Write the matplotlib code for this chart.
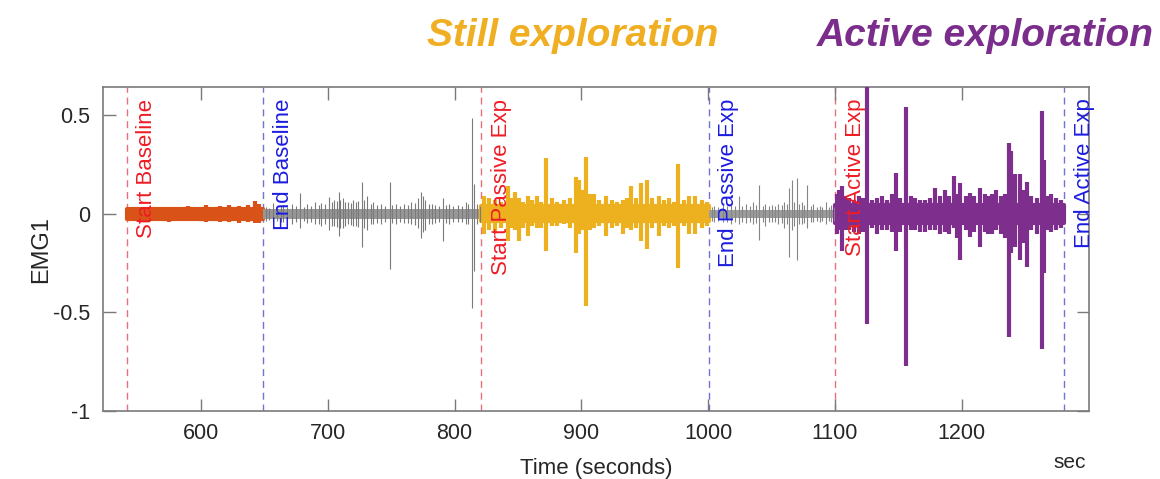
import matplotlib
matplotlib.use('Agg')
from matplotlib import pyplot as plt
import matplotlib.ticker as mticker
import matplotlib.transforms as mtransforms

# event markers (seconds)
event_t = [541.5, 649, 821, 1000.5, 1100, 1281]
event_labels = ['Start Baseline', 'End Baseline', 'Start Passive Exp',
                'End Passive Exp', 'Start Active Exp', 'End Active Exp']

# segments: start, end, noise band half-width
seg_names = ['baseline', 'rest1', 'passive', 'rest2', 'active']
seg_start = [541.5, 649, 821, 1000.5, 1100]
seg_end = [649, 821, 1000.5, 1100, 1281]
seg_noise = [0.027, 0.026, 0.038, 0.021, 0.044]

# spikes: time, upper peak, lower peak
base_t = [548, 560, 575, 590, 604, 615, 622, 630, 637, 643, 646]
base_hi = [0.035, 0.037, 0.035, 0.04, 0.043, 0.041, 0.045, 0.04, 0.043, 0.063, 0.05]
base_lo = [-0.035, -0.037, -0.04, -0.035, -0.041, -0.04, -0.043, -0.045, -0.041, -0.045, -0.045]

rest1_t = [651, 654, 657, 660, 663, 665, 668, 672, 675, 678, 681, 684, 687, 690, 693,
           695, 698, 701, 703, 705, 707, 708.7, 710, 712, 714, 716, 718, 720, 722, 724,
           727, 729, 731, 734, 736, 739, 742, 745, 749, 751, 754, 757, 760, 763, 766,
           769, 771, 773.8, 775, 777, 780, 782, 785, 788, 790.8, 793, 796, 799, 803,
           806, 809, 811, 813.6, 815, 818, 820]
rest1_hi = [0.035, 0.03, 0.055, 0.035, 0.04, 0.045, 0.035, 0.05, 0.04, 0.105, 0.035,
            0.05, 0.04, 0.06, 0.045, 0.055, 0.05, 0.085, 0.06, 0.07, 0.065, 0.11, 0.07,
            0.08, 0.06, 0.06, 0.055, 0.07, 0.06, 0.065, 0.16, 0.07, 0.09, 0.05, 0.06,
            0.045, 0.05, 0.04, 0.16, 0.045, 0.05, 0.04, 0.05, 0.045, 0.06, 0.055, 0.08,
            0.11, 0.09, 0.07, 0.05, 0.05, 0.045, 0.04, 0.08, 0.045, 0.05, 0.04, 0.045,
            0.04, 0.06, 0.05, 0.485, 0.15, 0.05, 0.04]
rest1_lo = [-0.035, -0.03, -0.045, -0.035, -0.04, -0.04, -0.035, -0.05, -0.04, -0.07,
            -0.035, -0.045, -0.04, -0.05, -0.05, -0.06, -0.05, -0.08, -0.06, -0.06,
            -0.065, -0.11, -0.07, -0.07, -0.06, -0.05, -0.055, -0.06, -0.06, -0.065,
            -0.17, -0.07, -0.08, -0.05, -0.05, -0.045, -0.05, -0.04, -0.28, -0.045,
            -0.05, -0.04, -0.045, -0.045, -0.05, -0.055, -0.07, -0.12, -0.09, -0.08,
            -0.05, -0.05, -0.045, -0.04, -0.14, -0.045, -0.05, -0.04, -0.04, -0.04,
            -0.05, -0.05, -0.475, -0.29, -0.05, -0.04]

passive_t = [823, 827, 832, 837, 842, 845, 848, 850.7, 854, 857.7, 861, 864.8, 868,
             872.2, 877, 881, 886, 891, 895.8, 898.4, 901, 903.7, 907, 910, 914, 919.5,
             924, 928, 932.5, 936, 939, 943, 947, 952, 956, 961, 965, 969, 973, 976.6,
             981, 985, 990, 995, 999]
passive_hi = [0.09, 0.08, 0.07, 0.06, 0.14, 0.08, 0.11, 0.08, 0.06, 0.09, 0.07, 0.09,
              0.06, 0.284, 0.08, 0.06, 0.07, 0.08, 0.187, 0.17, 0.12, 0.29, 0.1, 0.1,
              0.07, 0.09, 0.07, 0.06, 0.07, 0.08, 0.14, 0.08, 0.158, 0.17, 0.08, 0.09,
              0.07, 0.08, 0.06, 0.255, 0.07, 0.09, 0.09, 0.07, 0.06]
passive_lo = [-0.1, -0.08, -0.09, -0.07, -0.14, -0.07, -0.08, -0.14, -0.07, -0.11,
              -0.06, -0.07, -0.07, -0.187, -0.06, -0.06, -0.05, -0.07, -0.197, -0.1,
              -0.08, -0.465, -0.08, -0.07, -0.06, -0.11, -0.07, -0.06, -0.1, -0.07,
              -0.08, -0.07, -0.14, -0.18, -0.07, -0.11, -0.06, -0.07, -0.06, -0.277,
              -0.06, -0.1, -0.1, -0.07, -0.06]

rest2_t = [1003, 1005, 1008, 1012, 1015, 1018, 1021, 1024.4, 1027, 1030, 1033, 1035,
           1038, 1040, 1043, 1045, 1048, 1050, 1053, 1055, 1058, 1060, 1062, 1063.8,
           1066, 1068, 1070, 1072, 1074, 1076, 1078, 1081, 1083, 1086, 1088, 1090,
           1092.6, 1095, 1097, 1099]
rest2_hi = [0.035, 0.04, 0.035, 0.05, 0.04, 0.045, 0.04, 0.09, 0.04, 0.05, 0.04, 0.06,
            0.045, 0.148, 0.04, 0.05, 0.04, 0.045, 0.04, 0.05, 0.045, 0.06, 0.05, 0.13,
            0.173, 0.06, 0.18, 0.05, 0.06, 0.045, 0.148, 0.04, 0.05, 0.035, 0.04, 0.035,
            0.06, 0.035, 0.045, 0.035]
rest2_lo = [-0.035, -0.04, -0.035, -0.04, -0.04, -0.05, -0.04, -0.05, -0.04, -0.045,
            -0.04, -0.05, -0.045, -0.133, -0.04, -0.06, -0.04, -0.04, -0.04, -0.05,
            -0.045, -0.07, -0.05, -0.22, -0.08, -0.06, -0.235, -0.05, -0.05, -0.045,
            -0.07, -0.04, -0.04, -0.035, -0.04, -0.035, -0.05, -0.035, -0.04, -0.035]

active_t = [1102, 1103, 1105.8, 1108, 1111, 1115, 1119, 1122, 1125.4, 1129, 1133, 1137,
            1141, 1145, 1147.8, 1151, 1156.4, 1160, 1163.5, 1167, 1171, 1175, 1179.3,
            1183, 1187, 1190, 1193.7, 1196, 1199, 1203, 1206.8, 1210, 1214.7, 1218,
            1221, 1223.9, 1227, 1231, 1234, 1237, 1239, 1242.3, 1246, 1248, 1251.5,
            1255, 1259, 1263.3, 1265, 1268, 1270, 1274, 1278]
active_hi = [0.1, 0.12, 0.14, 0.09, 0.08, 0.07, 0.09, 0.08, 0.7, 0.07, 0.08, 0.09, 0.07,
             0.1, 0.21, 0.08, 0.54, 0.09, 0.08, 0.07, 0.07, 0.08, 0.13, 0.09, 0.12, 0.09,
             0.19, 0.1, 0.156, 0.09, 0.105, 0.09, 0.13, 0.1, 0.09, 0.1, 0.12, 0.09, 0.1,
             0.36, 0.32, 0.2, 0.2, 0.12, 0.16, 0.09, 0.08, 0.52, 0.275, 0.09, 0.1, 0.08,
             0.07]
active_lo = [-0.1, -0.08, -0.19, -0.08, -0.08, -0.09, -0.1, -0.09, -0.558, -0.07, -0.1,
             -0.08, -0.08, -0.09, -0.19, -0.09, -0.77, -0.08, -0.08, -0.09, -0.09, -0.08,
             -0.08, -0.1, -0.09, -0.1, -0.07, -0.12, -0.235, -0.08, -0.115, -0.09, -0.17,
             -0.09, -0.1, -0.1, -0.08, -0.1, -0.12, -0.626, -0.2, -0.17, -0.235, -0.15,
             -0.27, -0.08, -0.1, -0.685, -0.3, -0.08, -0.09, -0.08, -0.07]

spikes = {
    'baseline': (base_t, base_hi, base_lo),
    'rest1': (rest1_t, rest1_hi, rest1_lo),
    'passive': (passive_t, passive_hi, passive_lo),
    'rest2': (rest2_t, rest2_hi, rest2_lo),
    'active': (active_t, active_hi, active_lo),
}

seg_style = {
    'baseline': dict(color='#D95319', lw=3.0, band='#D95319'),
    'rest1': dict(color='#7a7a7a', lw=0.8, band='#979797'),
    'passive': dict(color='#EDB120', lw=3.0, band='#EDB120'),
    'rest2': dict(color='#858585', lw=0.8, band='#9c9c9c'),
    'active': dict(color='#7E2F8E', lw=3.0, band='#7E2F8E'),
}

plt.rcParams['font.family'] = ['Liberation Sans', 'DejaVu Sans']

fig = plt.figure(figsize=(11.6, 4.79), dpi=100)
ax = fig.add_axes([0.0888, 0.142, 0.8496, 0.676])

for name, s0, s1, nz in zip(seg_names, seg_start, seg_end, seg_noise):
    st = seg_style[name]
    thick = st['lw'] > 2
    ax.fill_between([s0, s1], [-nz, -nz], [nz, nz], color=st['band'],
                    lw=st['lw'] if thick else 0, edgecolor=st['band'], zorder=2)
    t, hi, lo = spikes[name]
    ax.vlines(t, lo, hi, color=st['color'], lw=st['lw'], zorder=3,
              capstyle='butt')

red_line, blue_line = '#e8707c', '#7272d0'
red_txt, blue_txt = '#ee1c25', '#1c1ce0'
for i, (t, lab) in enumerate(zip(event_t, event_labels)):
    start = lab.startswith('Start')
    ax.axvline(t, color=red_line if start else blue_line, lw=1.0,
               linestyle=(0, (5, 3.5)), zorder=1)
    off = mtransforms.offset_copy(ax.transData, fig=fig, x=7, y=0, units='points')
    ax.text(t, 0.585, lab, rotation=90, ha='left', va='top', fontsize=16,
            color=red_txt if start else blue_txt, transform=off, zorder=5)

ax.set_xlim(522.8, 1300)
ax.set_ylim(-1.0, 0.643)
ax.set_xticks([600, 700, 800, 900, 1000, 1100, 1200])
ax.set_yticks([-1, -0.5, 0, 0.5])
ax.yaxis.set_major_formatter(mticker.FuncFormatter(lambda v, p: '%g' % v))
ax.tick_params(direction='in', length=9, width=1, top=True, right=True,
               labelsize=15.5, colors='#7a7a7a', labelcolor='#262626', pad=9)
for sp in ax.spines.values():
    sp.set_color('#7a7a7a')
    sp.set_linewidth(1.2)

ax.set_ylabel('EMG1', fontsize=17, color='#262626', labelpad=1)
ax.set_xlabel('Time (seconds)', fontsize=16, color='#262626', labelpad=10)
fig.text(1070 / 1160, 1 - 463 / 479, 'sec', fontsize=15, color='#262626',
         ha='center', va='center')

fig.text(573 / 1160, 1 - 36 / 479, 'Still exploration', fontsize=28,
         fontweight='bold', fontstyle='italic', color='#F0AE22',
         ha='center', va='center')
fig.text(985 / 1160, 1 - 36 / 479, 'Active exploration', fontsize=28,
         fontweight='bold', fontstyle='italic', color='#7B2D8B',
         ha='center', va='center')

plt.savefig('out.png', dpi=100)
